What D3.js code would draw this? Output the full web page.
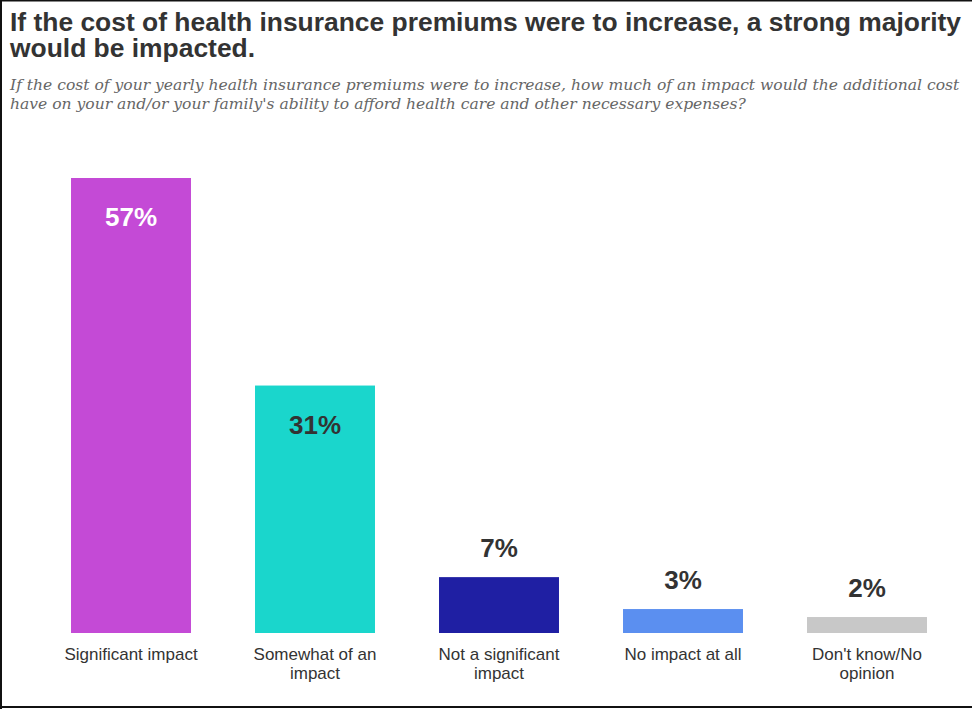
<!DOCTYPE html>
<html lang="en">
<head>
  <meta charset="UTF-8">
  <title>Health insurance premiums</title>
  <script src="https://d3js.org/d3.v7.min.js"></script>
  <style>
    body { margin: 0; background: #fff; }
    .title { font-family: "Liberation Sans", Arial, sans-serif; font-weight: bold; fill: #333; }
    .subtitle { font-family: "DejaVu Serif", Georgia, serif; font-style: italic; fill: #666; }
    .value { font-family: "Liberation Sans", Arial, sans-serif; font-weight: bold; font-size: 26px; }
    .cat text { font-family: "Liberation Sans", Arial, sans-serif; font-size: 17px; fill: #333; }
  </style>
</head>
<body>
  <div id="chart"></div>
  <script>
    // chart data
    const categories = ["Significant impact", "Somewhat of an impact", "Not a significant impact", "No impact at all", "Don't know/No opinion"];
    const values = [57, 31, 7, 3, 2];
    const colors = ["#c44ad6", "#1ad6cc", "#1f1fa3", "#5b8ff0", "#c8c8c8"];
    const labelColors = ["#ffffff", "#333333", "#333333", "#333333", "#333333"];
    const titleLines = ["If the cost of health insurance premiums were to increase, a strong majority", "would be impacted."];
    const subtitleLines = ["If the cost of your yearly health insurance premiums were to increase, how much of an impact would the additional cost",
      "have on your and/or your family's ability to afford health care and other necessary expenses?"];

    const W = 972, H = 709;
    const svg = d3.select("#chart").append("svg")
      .attr("width", W)
      .attr("height", H);

    svg.append("rect").attr("width", W).attr("height", H).attr("fill", "#fff");

    // frame: left, top, bottom
    svg.append("line").attr("x1", 1).attr("x2", 1).attr("y1", 0).attr("y2", H).attr("stroke", "#111").attr("stroke-width", 2);
    svg.append("line").attr("x1", 0).attr("x2", W).attr("y1", 0.75).attr("y2", 0.75).attr("stroke", "#111").attr("stroke-width", 1.5);
    svg.append("line").attr("x1", 0).attr("x2", W).attr("y1", 707).attr("y2", 707).attr("stroke", "#111").attr("stroke-width", 2);

    // title - squeezed to look condensed like the original
    const title = svg.append("g").attr("class", "title").style("font-size", "25px");
    const tl = title.selectAll("text").data(titleLines).join("text")
      .attr("x", 10)
      .attr("y", (d, i) => 31 + i * 26)
      .text(d => d);
    const w0 = tl.nodes()[0].getComputedTextLength();
    const ratio = 951 / w0;
    tl.each(function() {
      const w = this.getComputedTextLength();
      d3.select(this).attr("textLength", w * ratio).attr("lengthAdjust", "spacingAndGlyphs");
    });

    // subtitle - font size fitted to the line width
    const sub = svg.append("g").attr("class", "subtitle").style("font-size", "14px");
    const sl = sub.selectAll("text").data(subtitleLines).join("text")
      .attr("x", 10)
      .attr("y", (d, i) => 90 + i * 19)
      .text(d => d);
    const sw = sl.nodes()[0].getComputedTextLength();
    sub.style("font-size", (14 * 950 / sw) + "px");

    // scales
    const x = d3.scaleBand().domain(categories).range([39, 959]).paddingInner(0.348).paddingOuter(0.174);
    const y = d3.scaleLinear().domain([0, 57]).range([633, 178]);

    // bars
    svg.selectAll(".bar")
      .data(values)
      .join("rect")
      .attr("class", "bar")
      .attr("x", (d, i) => x(categories[i]))
      .attr("y", d => y(d))
      .attr("width", x.bandwidth())
      .attr("height", d => y(0) - y(d))
      .attr("fill", (d, i) => colors[i]);

    // value labels: inside for tall bars, above for short ones
    svg.selectAll(".value")
      .data(values)
      .join("text")
      .attr("class", "value")
      .attr("text-anchor", "middle")
      .attr("x", (d, i) => x(categories[i]) + x.bandwidth() / 2)
      .attr("y", d => d > 20 ? y(d) + 48 : y(d) - 20)
      .attr("fill", (d, i) => labelColors[i])
      .text(d => d + "%");

    // category axis
    const axis = svg.append("g")
      .attr("class", "cat")
      .attr("transform", `translate(0,${y(0)})`)
      .call(d3.axisBottom(x).tickSize(0).tickPadding(15));
    axis.select(".domain").remove();
    axis.selectAll("text").call(wrap, 150);

    function wrap(texts, width) {
      texts.each(function() {
        const text = d3.select(this);
        const words = text.text().split(/\s+/);
        const yy = text.attr("y");
        const dy = parseFloat(text.attr("dy"));
        text.text(null);
        let line = [];
        let lineNo = 0;
        let tspan = text.append("tspan").attr("x", 0).attr("y", yy).attr("dy", dy + "em");
        words.forEach(w => {
          line.push(w);
          tspan.text(line.join(" "));
          if (tspan.node().getComputedTextLength() > width && line.length > 1) {
            line.pop();
            tspan.text(line.join(" "));
            line = [w];
            lineNo++;
            tspan = text.append("tspan").attr("x", 0).attr("y", yy)
              .attr("dy", (lineNo * 1.12 + dy) + "em").text(w);
          }
        });
      });
    }
  </script>
</body>
</html>
